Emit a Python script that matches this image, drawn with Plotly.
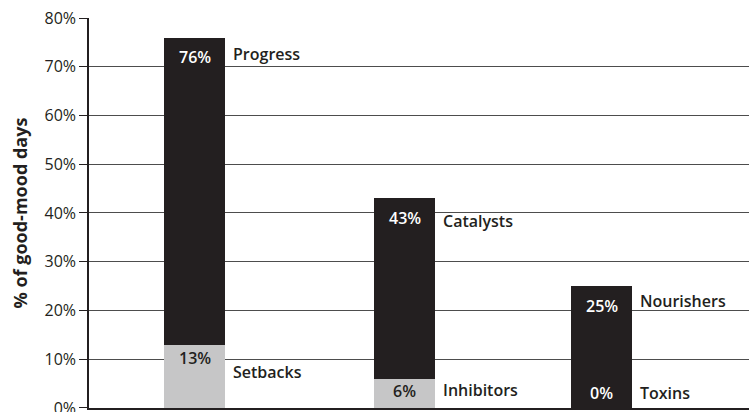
import plotly.graph_objects as go

# ---- data ----
groups = ["Progress vs. Setbacks", "Catalysts vs. Inhibitors", "Nourishers vs. Toxins"]
positive_names = ["Progress", "Catalysts", "Nourishers"]
negative_names = ["Setbacks", "Inhibitors", "Toxins"]
positive_values = [76, 43, 25]
negative_values = [13, 6, 0]
y_ticks = [0, 10, 20, 30, 40, 50, 60, 70, 80]

# ---- layout / style ----
x_pos = [0, 1, 1.94]
DARK = "#231f20"
GREY = "#c6c6c7"
FONT = "Open Sans"
bar_w = 0.29

fig = go.Figure()
fig.add_trace(go.Bar(x=x_pos, y=positive_values, width=bar_w, marker=dict(color=DARK, line=dict(width=0)),
                     hoverinfo="skip", showlegend=False))
fig.add_trace(go.Bar(x=x_pos, y=negative_values, width=bar_w, marker=dict(color=GREY, line=dict(width=0)),
                     hoverinfo="skip", showlegend=False))

ann = []
pos_val_shift = [-19, -20, -20]
pos_name_shift = [-16, -23, -15]
neg_val_shift = [-13, -12, 15]
neg_name_shift = [-27, -11, 15]
neg_val_color = [DARK, DARK, "white"]
for i in range(3):
    ann.append(dict(x=x_pos[i], y=positive_values[i], text=f"{positive_values[i]}%", showarrow=False,
                    xanchor="center", yanchor="middle", yshift=pos_val_shift[i],
                    font=dict(family=FONT, size=16, color="white", weight=600)))
    ann.append(dict(x=x_pos[i] + bar_w / 2, y=positive_values[i], text=positive_names[i], showarrow=False,
                    xanchor="left", yanchor="middle", xshift=6, yshift=pos_name_shift[i],
                    font=dict(family=FONT, size=16, color=DARK, weight=600)))
    ann.append(dict(x=x_pos[i], y=negative_values[i], text=f"{negative_values[i]}%", showarrow=False,
                    xanchor="center", yanchor="middle", yshift=neg_val_shift[i],
                    font=dict(family=FONT, size=16, color=neg_val_color[i], weight=600)))
    ann.append(dict(x=x_pos[i] + bar_w / 2, y=negative_values[i], text=negative_names[i], showarrow=False,
                    xanchor="left", yanchor="middle", xshift=6, yshift=neg_name_shift[i],
                    font=dict(family=FONT, size=16, color=DARK, weight=600)))

fig.update_layout(
    width=749, height=412,
    margin=dict(l=89, r=0, t=18, b=4, autoexpand=False),
    paper_bgcolor="white", plot_bgcolor="white",
    barmode="overlay", bargap=0,
    annotations=ann,
    font=dict(family=FONT, color=DARK),
    xaxis=dict(range=[-0.5024, 2.6405], showticklabels=False, showgrid=False, zeroline=False,
               showline=True, linecolor=DARK, linewidth=2, ticks="", automargin=False),
    yaxis=dict(range=[-0.02, 80], tickvals=y_ticks, ticktext=[f"{v}%" for v in y_ticks],
               showgrid=True, gridcolor="#4d4d4d", gridwidth=1, zeroline=False,
               showline=True, linecolor=DARK, linewidth=1.5, automargin=False,
               ticks="outside", ticklen=8, tickcolor=DARK, tickwidth=1,
               ticklabeloverflow="allow",
               tickfont=dict(family=FONT, size=16, color=DARK),
               title=dict(text="% of good-mood days", standoff=12,
                          font=dict(family=FONT, size=18, color=DARK, weight="bold"))),
)
fig.write_html("out.html")
